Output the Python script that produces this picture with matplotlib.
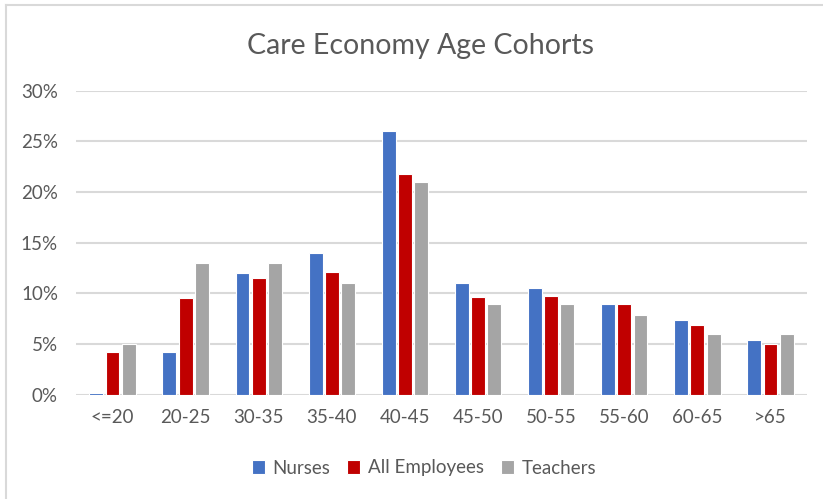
import matplotlib
matplotlib.use("Agg")
import matplotlib.pyplot as plt
import numpy as np
from matplotlib.ticker import FuncFormatter

plt.rcParams['font.family'] = ['Lato', 'DejaVu Sans']

categories = ["<=20", "20-25", "30-35", "35-40", "40-45", "45-50", "50-55", "55-60", "60-65", ">65"]
nurses = [0.2, 4.2, 12.0, 14.0, 26.0, 11.0, 10.5, 9.0, 7.4, 5.4]
all_employees = [4.2, 9.5, 11.5, 12.1, 21.8, 9.6, 9.7, 9.0, 6.9, 5.0]
teachers = [5.0, 13.0, 13.0, 11.0, 21.0, 9.0, 9.0, 7.9, 6.0, 6.0]
series_names = ["Nurses", "All Employees", "Teachers"]
colors = ["#4472C4", "#C00000", "#A5A5A5"]
yticks = [0, 5, 10, 15, 20, 25, 30]

text_color = "#595959"
fig = plt.figure(figsize=(8.23, 4.99), dpi=100)
ax = fig.add_axes([76/823, 1-394.7/499, (807-76)/823, (394.7-90.7)/499])

x = np.arange(len(categories))
w = 0.19
step = 0.222
for i, (vals, name, c) in enumerate(zip([nurses, all_employees, teachers], series_names, colors)):
    ax.bar(x + (i-1)*step, [v/100 for v in vals], width=w, color=c, edgecolor='white',
           linewidth=0.8, label=name, zorder=3)

ax.set_xlim(-0.5, len(categories)-0.5)
ax.set_ylim(0, 0.30)
ax.set_yticks([t/100 for t in yticks])
ax.yaxis.set_major_formatter(FuncFormatter(lambda v, p: f"{v*100:.0f}%"))
ax.set_xticks(x)
ax.set_xticklabels(categories)
ax.grid(axis='y', color='#D9D9D9', linewidth=1.5, zorder=0)
for s in ax.spines.values():
    s.set_visible(False)
ax.tick_params(axis='both', length=0, colors=text_color, labelsize=13.5)
ax.tick_params(axis='y', pad=13)
ax.tick_params(axis='x', pad=10)

fig.text(0.511, 1-46/499, "Care Economy Age Cohorts", ha='center', va='center',
         fontsize=20.5, color=text_color)

leg = fig.legend(loc='center', bbox_to_anchor=(0.515, 1-468/499), ncol=3, frameon=False,
                 fontsize=13.5, handlelength=0.7, handleheight=0.7, handletextpad=0.4,
                 columnspacing=0.9)
for t in leg.get_texts():
    t.set_color(text_color)

# chart border (left and top visible)
fig.add_artist(plt.Line2D([6/823, 6/823], [0, 1-5/499], color='#D9D9D9', linewidth=1.5, transform=fig.transFigure))
fig.add_artist(plt.Line2D([6/823, 1], [1-5/499, 1-5/499], color='#D9D9D9', linewidth=1.5, transform=fig.transFigure))

fig.savefig("out.png", dpi=100)
